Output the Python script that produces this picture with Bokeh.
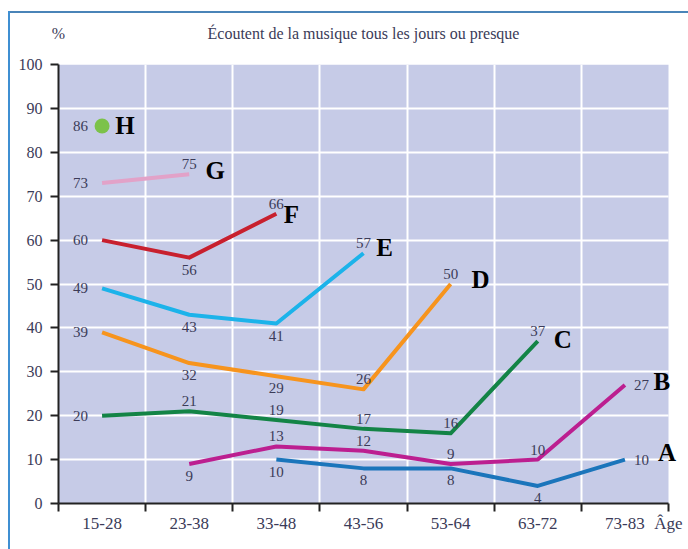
from bokeh.plotting import figure
from bokeh.models import FixedTicker, LabelSet, ColumnDataSource, LinearAxis
from bokeh.embed import file_html
from bokeh.resources import INLINE

# ---- data ----
ages = ["15-28", "23-38", "33-48", "43-56", "53-64", "63-72", "73-83"]
age_axis_label = "Âge"
y_ticks = [0, 10, 20, 30, 40, 50, 60, 70, 80, 90, 100]
unit_label = "%"
title_text = "Écoutent de la musique tous les jours ou presque"

A_start, A_vals = 2, [10, 8, 8, 4, 10]
B_start, B_vals = 1, [9, 13, 12, 9, 10, 27]
C_start, C_vals = 0, [20, 21, 19, 17, 16, 37]
D_start, D_vals = 0, [39, 32, 29, 26, 50]
E_start, E_vals = 0, [49, 43, 41, 57]
F_start, F_vals = 0, [60, 56, 66]
G_start, G_vals = 0, [73, 75]
H_start, H_vals = 0, [86]

# ---- styles / placement ----
series = [
    ("A", A_start, A_vals, "#1b75bb", ["below", "below", "below", "below", "right"], (42, 7)),
    ("B", B_start, B_vals, "#bc1f90", ["below", "above", "above", "above", "above", "right"], (37, 3)),
    ("C", C_start, C_vals, "#138446", ["left", "above", "above", "above", "above", "above"], (25, 2)),
    ("D", D_start, D_vals, "#f7941d", ["left", "below", "below", "above", "above"], (30, 5)),
    ("E", E_start, E_vals, "#1cb3ea", ["left", "below", "below", "above"], (21, 6)),
    ("F", F_start, F_vals, "#c8202e", ["left", "below", "above"], (15, -1)),
    ("G", G_start, G_vals, "#e2a2c8", ["left", "above"], (26, 4)),
    ("H", H_start, H_vals, "#7cc24a", ["left"], (23, 0)),
]

TXT = "#3b3b58"
FONT = "Liberation Sans Narrow"
n = len(ages)
px_per_unit = 610 / n
x_max = n + 20 / px_per_unit  # extra room on the right for the letters

p = figure(width=688, height=549, x_range=(0, x_max), y_range=(y_ticks[0], y_ticks[-1]),
           output_backend="svg", toolbar_location=None,
           min_border_left=58, min_border_right=0, min_border_top=64, min_border_bottom=46,
           background_fill_color=None, border_fill_color=None, outline_line_color=None)
p.title.visible = False
p.styles = {"box-shadow": "inset 8px 0 0 0 #ffffff, inset 0 11px 0 0 #ffffff, "
                          "inset 10px 0 0 0 #3f8fd2, inset 0 13px 0 0 #4a84b8"}

# plot background (lavender area)
p.quad(left=[0], right=[n], bottom=[y_ticks[0]], top=[y_ticks[-1]],
       fill_color="#c6cbe7", line_color=None, level="image")

centers = [i + 0.5 for i in range(n)]
overrides = {c: a for c, a in zip(centers, ages)}
overrides[float(n)] = age_axis_label
p.xaxis.ticker = FixedTicker(ticks=centers + [float(n)], minor_ticks=list(range(n + 1)))
p.xaxis.major_label_overrides = overrides
p.xaxis.bounds = (0, n)
p.xaxis.major_tick_line_color = None
p.xaxis.major_tick_out = 0
p.xaxis.minor_tick_out = 8
p.xaxis.minor_tick_in = 0
p.xaxis.minor_tick_line_color = "#222222"
p.xaxis.minor_tick_line_width = 2
p.xaxis.major_label_standoff = 2
p.xaxis.major_label_text_font_size = "17px"

p.yaxis.ticker = FixedTicker(ticks=y_ticks, minor_ticks=[])
p.yaxis.major_tick_out = 8
p.yaxis.major_tick_in = 0
p.yaxis.major_tick_line_width = 2
p.yaxis.major_tick_line_color = "#222222"
p.yaxis.major_label_standoff = 8
p.yaxis.major_label_text_font_size = "16px"

for ax in (p.xaxis, p.yaxis):
    ax.axis_line_color = "#222222"
    ax.axis_line_width = 2
    ax.major_label_text_font = FONT
    ax.major_label_text_color = TXT

# title row: "%" over the y axis, title centred over the plot
top_axis = LinearAxis(ticker=FixedTicker(ticks=[0, n / 2], minor_ticks=[]),
                      major_label_overrides={0: unit_label, n / 2: title_text},
                      axis_line_color=None, major_tick_line_color=None,
                      major_tick_out=0, major_tick_in=0,
                      major_label_standoff=23, major_label_text_font=FONT,
                      major_label_text_font_size="16px", major_label_text_color=TXT)
p.add_layout(top_axis, "above")

p.xgrid.ticker = FixedTicker(ticks=list(range(1, n)))
p.ygrid.ticker = FixedTicker(ticks=y_ticks[1:])
for g in (p.xgrid, p.ygrid):
    g.grid_line_color = "white"
    g.grid_line_width = 2
try:
    p.ygrid.cross_bounds = (0, n)
except Exception:
    pass

groups = {k: {"x": [], "y": [], "t": []} for k in ("above", "below", "left", "right")}
letters = {"x": [], "y": [], "t": [], "dx": [], "dy": []}

for name, start, vals, color, places, (ldx, ldy) in series:
    xs = [centers[start + i] for i in range(len(vals))]
    if len(vals) > 1:
        p.line(xs, vals, line_color=color, line_width=4, line_join="round")
    else:
        p.scatter(xs, vals, size=15, fill_color=color, line_color=None)
    for x, v, pl in zip(xs, vals, places):
        groups[pl]["x"].append(x)
        groups[pl]["y"].append(v)
        groups[pl]["t"].append(str(v))
    letters["x"].append(xs[-1])
    letters["y"].append(vals[-1])
    letters["t"].append(name)
    letters["dx"].append(ldx)
    letters["dy"].append(ldy)

cfg = {
    "above": dict(x_offset=0, y_offset=5, text_align="center", text_baseline="bottom"),
    "below": dict(x_offset=0, y_offset=-7, text_align="center", text_baseline="top"),
    "left": dict(x_offset=-14, y_offset=0, text_align="right", text_baseline="middle"),
    "right": dict(x_offset=9, y_offset=0, text_align="left", text_baseline="middle"),
}
for k, d in groups.items():
    src = ColumnDataSource(dict(x=d["x"], y=d["y"], t=d["t"]))
    p.add_layout(LabelSet(x="x", y="y", text="t", source=src, text_font=FONT,
                          text_font_size="15px", text_color=TXT, **cfg[k]))

lsrc = ColumnDataSource(dict(x=letters["x"], y=letters["y"], t=letters["t"],
                             dx=letters["dx"], dy=letters["dy"]))
p.add_layout(LabelSet(x="x", y="y", text="t", source=lsrc, x_offset="dx", y_offset="dy",
                      text_align="center", text_baseline="middle",
                      text_font="Liberation Serif", text_font_style="bold",
                      text_font_size="25px", text_color="black"))

open("out.html", "w").write(file_html(p, INLINE))
